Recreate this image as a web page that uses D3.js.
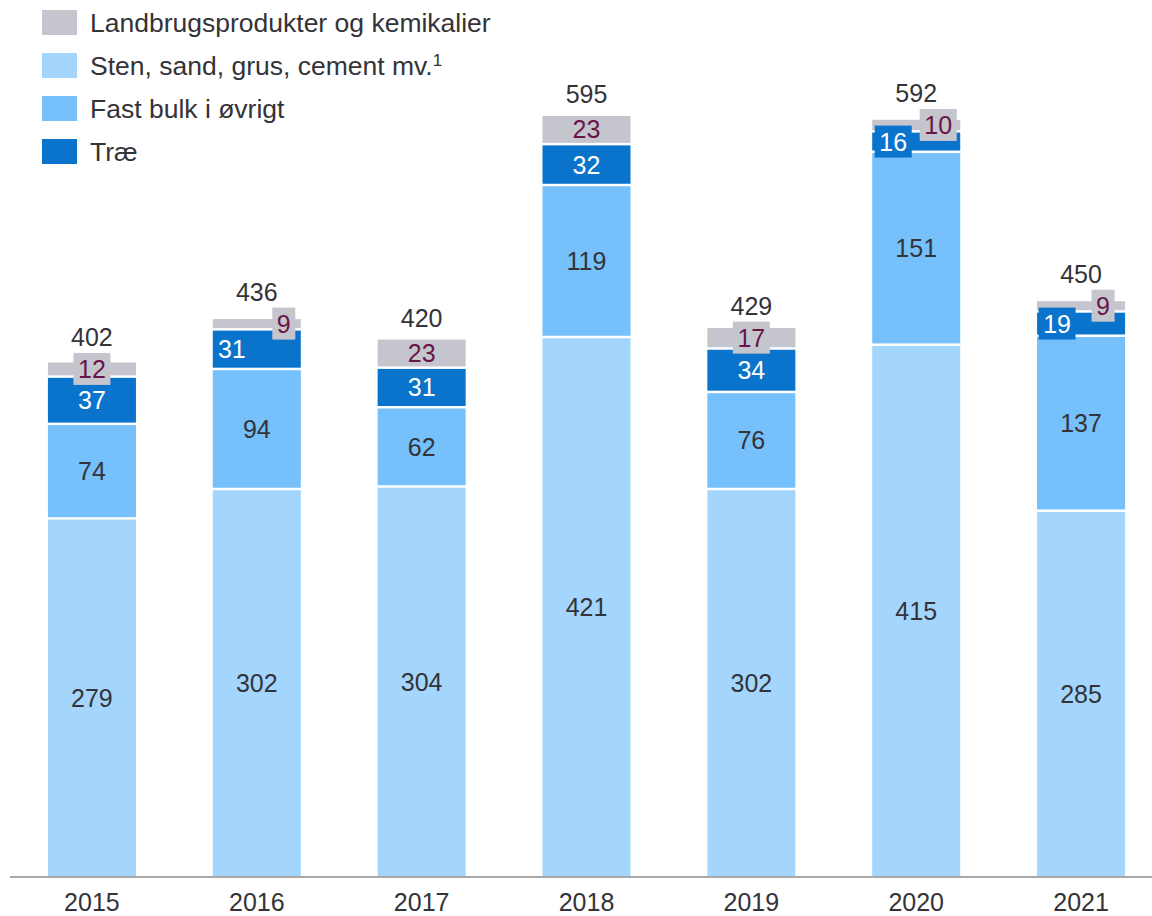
<!DOCTYPE html>
<html>
<head>
<meta charset="utf-8">
<script src="https://cdn.jsdelivr.net/npm/d3@7"></script>
<style>
  body { margin: 0; background: #fff; }
  svg text { font-family: "Liberation Sans", Arial, sans-serif; }
</style>
</head>
<body>
<svg id="chart"></svg>
<script>
// Data
const years = ["2015", "2016", "2017", "2018", "2019", "2020", "2021"];
const sten = [279, 302, 304, 421, 302, 415, 285];
const fastBulk = [74, 94, 62, 119, 76, 151, 137];
const trae = [37, 31, 31, 32, 34, 16, 19];
const landbrug = [12, 9, 23, 23, 17, 10, 9];
const totals = [402, 436, 420, 595, 429, 592, 450];

// Series in stacking order (bottom first)
const seriesKeys = ["sten", "fastBulk", "trae", "landbrug"];
const seriesNames = {
    landbrug: "Landbrugsprodukter og kemikalier",
    sten: "Sten, sand, grus, cement mv.",
    fastBulk: "Fast bulk i øvrigt",
    trae: "Træ"
};
const colors = { sten: "#a4d6fd", fastBulk: "#76c0fb", trae: "#0a74cc", landbrug: "#c5c5cd" };
const textColors = { sten: "#333338", fastBulk: "#333338", trae: "#ffffff", landbrug: "#6b1448" };
const legendOrder = ["landbrug", "sten", "fastBulk", "trae"];

// Horizontal nudges for crowded small labels (px)
const labelShift = {
    "2016": { trae: -25, landbrug: 27 },
    "2020": { trae: -23, landbrug: 22 },
    "2021": { trae: -24, landbrug: 22 }
};

const width = 1152, height = 916;
const baseY = 876;
const svg = d3.select("#chart").attr("width", width).attr("height", height);

const table = years.map((y, i) => ({
    year: y, sten: sten[i], fastBulk: fastBulk[i], trae: trae[i], landbrug: landbrug[i], total: totals[i]
}));
const stacked = d3.stack().keys(seriesKeys)(table);

// Scales
const x = d3.scaleBand().domain(years).range([10, 1163]).paddingInner(0.466).paddingOuter(0.23);
const y = d3.scaleLinear().domain([0, 595]).range([baseY, 116]);

const gap = 2.5; // white separator between segments

// Bars
const layers = svg.append("g").selectAll("g")
    .data(stacked)
    .join("g")
    .attr("fill", d => colors[d.key]);

layers.selectAll("rect")
    .data(d => d.map(p => ({ key: d.key, idx: d.index, p })))
    .join("rect")
    .attr("x", d => x(d.p.data.year))
    .attr("width", x.bandwidth())
    .attr("y", d => y(d.p[1]))
    .attr("height", d => y(d.p[0]) - y(d.p[1]) - (d.idx > 0 ? gap : 0));

// Segment labels
const labelG = svg.append("g");
const boxTops = {};
stacked.forEach(layer => {
    layer.forEach(p => {
        const yr = p.data.year;
        const val = p[1] - p[0];
        const segH = y(p[0]) - y(p[1]) - (layer.index > 0 ? gap : 0);
        const cy = y(p[1]) + segH / 2;
        const shift = (labelShift[yr] && labelShift[yr][layer.key]) || 0;
        const cx = x(yr) + x.bandwidth() / 2 + shift;
        const txt = String(val);
        if (segH < 26) {
            const bw = txt.length * 14 + 9;
            labelG.append("rect")
                .attr("x", cx - bw / 2)
                .attr("y", cy - 16)
                .attr("width", bw)
                .attr("height", 32)
                .attr("fill", colors[layer.key]);
            boxTops[yr] = Math.min(boxTops[yr] ?? Infinity, cy - 16);
        }
        labelG.append("text")
            .attr("x", cx)
            .attr("y", cy)
            .attr("dy", "0.36em")
            .attr("text-anchor", "middle")
            .style("font-size", "25px")
            .style("fill", textColors[layer.key])
            .text(txt);
    });
});

// Totals above bars
svg.append("g").selectAll("text")
    .data(table)
    .join("text")
    .attr("x", d => x(d.year) + x.bandwidth() / 2)
    .attr("y", d => Math.min(y(d.total) - 13, (boxTops[d.year] ?? Infinity) - 7))
    .attr("text-anchor", "middle")
    .style("font-size", "25px")
    .style("fill", "#333338")
    .text(d => d.total);

// X axis
const xAxis = svg.append("g")
    .attr("transform", `translate(0, ${baseY + 1})`)
    .call(d3.axisBottom(x).tickSize(0).tickPadding(16));
xAxis.select(".domain").attr("d", "M10,0H1152").attr("stroke", "#555").attr("stroke-width", 1.2);
xAxis.selectAll(".tick text")
    .style("font-size", "25px")
    .style("font-family", "'Liberation Sans', Arial, sans-serif")
    .style("fill", "#333338");

// Legend
const legend = svg.append("g").selectAll("g")
    .data(legendOrder)
    .join("g")
    .attr("transform", (d, i) => `translate(42, ${10 + i * 43})`);
legend.append("rect")
    .attr("width", 35)
    .attr("height", 25)
    .attr("fill", d => colors[d]);
const legendText = legend.append("text")
    .attr("x", 48)
    .attr("y", 12.5)
    .attr("dy", "0.36em")
    .style("font-size", "26.5px")
    .style("fill", "#333338")
    .text(d => seriesNames[d]);
legendText.filter(d => d === "sten")
    .append("tspan")
    .attr("dy", "-0.55em")
    .style("font-size", "17px")
    .text("1");
</script>
</body>
</html>
